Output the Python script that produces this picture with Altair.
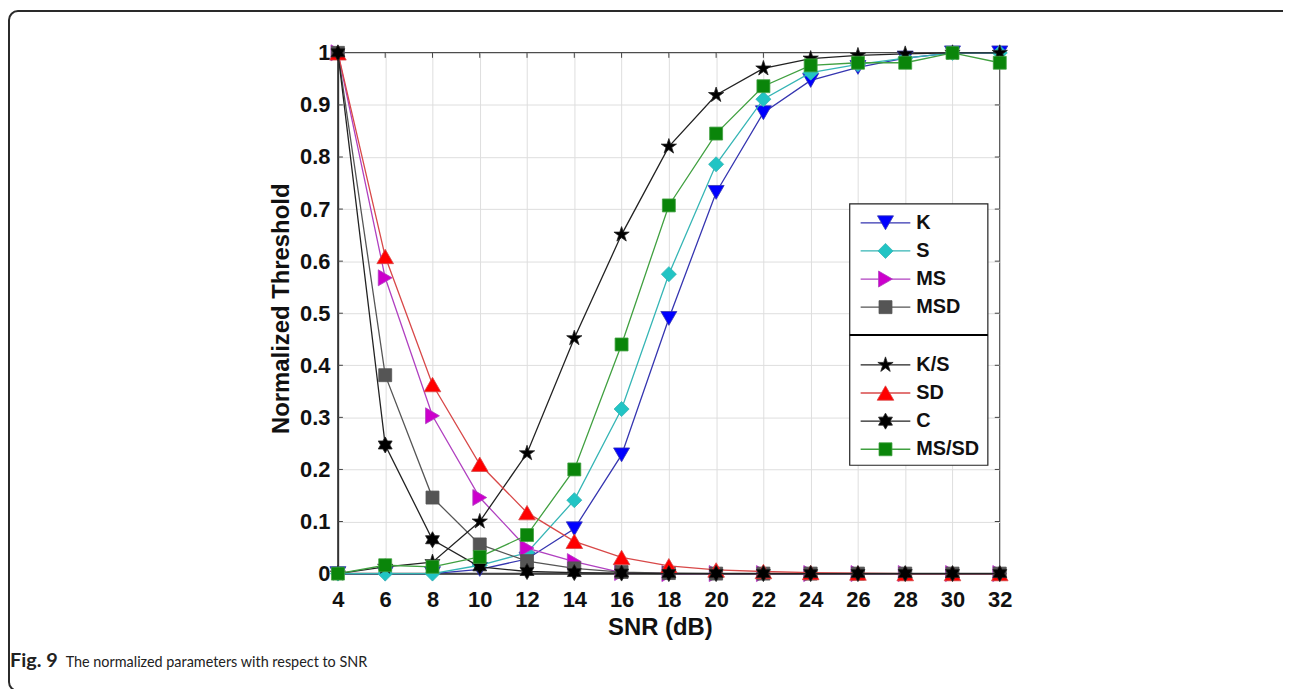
import altair as alt
import pandas as pd

# ---------------- data ----------------
SNR = [4, 6, 8, 10, 12, 14, 16, 18, 20, 22, 24, 26, 28, 30, 32]
SERIES = ["K", "S", "MS", "MSD", "K/S", "SD", "C", "MS/SD"]

K = [0, 0, 0, 0.008, 0.028, 0.086, 0.228, 0.49, 0.732, 0.885, 0.947, 0.972, 0.99, 1.0, 1.0]
S = [0, 0, 0, 0.016, 0.04, 0.141, 0.316, 0.575, 0.786, 0.911, 0.962, 0.978, 0.99, 1.0, 1.0]
MS = [1, 0.568, 0.303, 0.146, 0.049, 0.023, 0.002, 0, 0, 0, 0, 0, 0, 0, 0]
MSD = [1, 0.381, 0.146, 0.056, 0.024, 0.01, 0.003, 0.001, 0, 0, 0, 0, 0, 0, 0]
KS = [0, 0.013, 0.022, 0.1, 0.231, 0.452, 0.651, 0.82, 0.919, 0.97, 0.989, 0.995, 0.998, 1.0, 1.0]
SD = [1, 0.609, 0.363, 0.21, 0.117, 0.062, 0.031, 0.015, 0.007, 0.004, 0.002, 0.001, 0, 0, 0]
C = [1, 0.247, 0.065, 0.013, 0.004, 0.002, 0.001, 0, 0, 0, 0, 0, 0, 0, 0]
MSSD = [0, 0.016, 0.013, 0.032, 0.074, 0.2, 0.44, 0.707, 0.845, 0.936, 0.976, 0.981, 0.981, 1.0, 0.981]

X_TICKS = [4, 6, 8, 10, 12, 14, 16, 18, 20, 22, 24, 26, 28, 30, 32]
Y_TICKS = [0, 0.1, 0.2, 0.3, 0.4, 0.5, 0.6, 0.7, 0.8, 0.9, 1.0]

CAPTION_BOLD = "Fig. 9"
CAPTION = "The normalized parameters with respect to SNR"

# ---------------- styles ----------------
STAR = ("M0,-1 L0.2245,-0.309 L0.951,-0.309 L0.363,0.118 L0.588,0.809 L0,0.382 "
        "L-0.588,0.809 L-0.363,0.118 L-0.951,-0.309 L-0.2245,-0.309 Z")
HEXA = ("M0,-1 L0.2887,-0.5 L0.866,-0.5 L0.577,0 L0.866,0.5 L0.2887,0.5 L0,1 "
        "L-0.2887,0.5 L-0.866,0.5 L-0.577,0 L-0.866,-0.5 L-0.2887,-0.5 Z")

LINE_COLORS = ["#3535b0", "#35b5b5", "#b040c0", "#555555", "#222222", "#d84848", "#222222", "#40a040"]
MARK_COLORS = ["#0000ff", "#22c4c4", "#cc00cc", "#555555", "#000000", "#ff0000", "#000000", "#0a850a"]
SHAPES = ["triangle-down", "diamond", "triangle-right", "square", STAR, "triangle-up", HEXA, "square"]
SIZES = [260, 230, 260, 170, 260, 280, 260, 170]

FONT = "Liberation Sans"
W, H = 666, 524

all_vals = [K, S, MS, MSD, KS, SD, C, MSSD]
rows = []
for name, vals in zip(SERIES, all_vals):
    for x, v in zip(SNR, vals):
        rows.append({"series": name, "snr": x, "value": v})
df = pd.DataFrame(rows)

xscale = alt.Scale(domain=[4, 32], nice=False, zero=False)
yscale = alt.Scale(domain=[0, 1], nice=False, zero=False)
xaxis = alt.Axis(values=X_TICKS, title="SNR (dB)", grid=True, ticks=False, tickSize=0,
                 labelPadding=16, titleX=324, titleY=54, titleBaseline="middle",
                 labelFlush=False)
yaxis = alt.Axis(values=Y_TICKS, title="Normalized Threshold", grid=True, ticks=False,
                 tickSize=0, labelPadding=8, format=".1~f", titleX=-57, titleY=257,
                 titleBaseline="middle", titleAngle=270, titleAlign="center", labelFlush=False)

X = lambda f: alt.X(f, type="quantitative", scale=xscale, axis=xaxis)
Y = lambda f: alt.Y(f, type="quantitative", scale=yscale, axis=yaxis)

one = alt.Data(values=[{"a": 1}])
layers = []

# outer figure frame
layers.append(alt.Chart(one).mark_rect(fill=None, stroke="#2a2a2a", strokeWidth=2,
                                       cornerRadius=9).encode(
    x=alt.value(-331), x2=alt.value(962), y=alt.value(-42), y2=alt.value(642)))

# inside ticks
xt = pd.DataFrame({"snr": X_TICKS})
yt = pd.DataFrame({"value": Y_TICKS})
tick_color = "#444444"
layers.append(alt.Chart(xt).mark_rule(color=tick_color).encode(x=X("snr"), y=alt.value(H), y2=alt.value(H - 5)))
layers.append(alt.Chart(xt).mark_rule(color=tick_color).encode(x=X("snr"), y=alt.value(0), y2=alt.value(5)))
layers.append(alt.Chart(yt).mark_rule(color=tick_color).encode(y=Y("value"), x=alt.value(0), x2=alt.value(5)))
layers.append(alt.Chart(yt).mark_rule(color=tick_color).encode(y=Y("value"), x=alt.value(W), x2=alt.value(W - 5)))

# series
for i, name in enumerate(SERIES):
    sub = df[df.series == name]
    layers.append(alt.Chart(sub).mark_line(color=LINE_COLORS[i], strokeWidth=1.3).encode(
        x=X("snr"), y=Y("value")))
    layers.append(alt.Chart(sub).mark_point(filled=True, opacity=1, fill=MARK_COLORS[i],
                                            stroke=LINE_COLORS[i], strokeWidth=0.8,
                                            shape=SHAPES[i], size=SIZES[i]).encode(
        x=X("snr"), y=Y("value")))

# legend box
LX0, LX1, LY0, LY1 = 515, 654, 152, 415
layers.append(alt.Chart(one).mark_rect(fill="white", stroke="#222222", strokeWidth=1.2).encode(
    x=alt.value(LX0), x2=alt.value(LX1), y=alt.value(LY0), y2=alt.value(LY1)))
layers.append(alt.Chart(one).mark_rule(color="#000000", strokeWidth=2).encode(
    x=alt.value(LX0), x2=alt.value(LX1), y=alt.value(284)))
for i, name in enumerate(SERIES):
    ly = 171 + 28.3 * i if i < 4 else 314 + 28.3 * (i - 4)
    d = alt.Data(values=[{"name": name}])
    layers.append(alt.Chart(d).mark_rule(color=LINE_COLORS[i], strokeWidth=1.3).encode(
        x=alt.value(526), x2=alt.value(576), y=alt.value(ly)))
    layers.append(alt.Chart(d).mark_point(filled=True, opacity=1, fill=MARK_COLORS[i],
                                          stroke=LINE_COLORS[i], strokeWidth=0.8,
                                          shape=SHAPES[i], size=SIZES[i]).encode(
        x=alt.value(551), y=alt.value(ly)))
    layers.append(alt.Chart(d).mark_text(align="left", baseline="middle", font=FONT,
                                         fontSize=20, fontWeight="bold", color="#111111").encode(
        x=alt.value(582), y=alt.value(ly), text="name:N"))

# caption
layers.append(alt.Chart(one).mark_text(align="left", baseline="alphabetic", font="Lato",
                                       fontSize=20, fontWeight="bold", color="#222222").encode(
    x=alt.value(-330), y=alt.value(618), text=alt.value(CAPTION_BOLD)))
layers.append(alt.Chart(one).mark_text(align="left", baseline="alphabetic", font="Lato",
                                       fontSize=14.5, color="#222222").encode(
    x=alt.value(-274), y=alt.value(618), text=alt.value(CAPTION)))

chart = alt.layer(*layers).properties(
    width=W, height=H,
    padding={"left": 332, "top": 43, "right": 285, "bottom": 114},
    autosize=alt.AutoSizeParams(type="none"),
    background="white",
).configure_view(stroke="#333333", strokeWidth=1.5).configure_axis(
    labelFont=FONT, labelFontSize=22, labelFontWeight="bold", labelColor="#111111",
    titleFont=FONT, titleFontSize=24, titleFontWeight="bold", titleColor="#111111",
    gridColor="#dedede", gridWidth=1, domainColor="#333333", domainWidth=1.5,
)

chart.save("out.html", embed_options={"renderer": "svg", "actions": False})
